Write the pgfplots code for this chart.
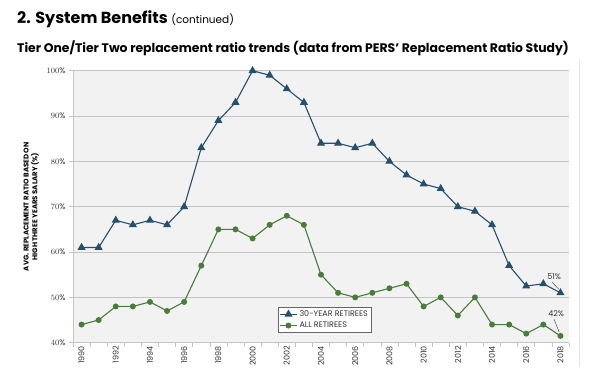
\documentclass[border=0pt]{standalone}
\usepackage{pgfplots}
\pgfplotsset{compat=1.18}
\usepackage{fontspec}
\setmainfont{Poppins}
\definecolor{blueS}{HTML}{24506E}
\definecolor{greenS}{HTML}{4A7C3A}
\definecolor{gridc}{HTML}{C4C4C4}
\definecolor{bgc}{HTML}{F2F2F2}
\definecolor{txt}{HTML}{333333}
\pgfplotstableread{
x y
0 61
1 61
2 67
3 66
4 67
5 66
6 70
7 83
8 89
9 93
10 100
11 99
12 96
13 93
14 84
15 84
16 83
17 84
18 80
19 77
20 75
21 74
22 70
23 69
24 66
25 57
26 52.5
27 53
28 51
}\thirtyyear
\pgfplotstableread{
x y
0 44
1 45
2 48
3 48
4 49
5 47
6 49
7 57
8 65
9 65
10 63
11 66
12 68
13 66
14 55
15 51
16 50
17 51
18 52
19 53
20 48
21 50
22 46
23 50
24 44
25 44
26 42
27 44
28 41.5
}\allret
\begin{document}
\begin{tikzpicture}[x=1pt,y=1pt]
\useasboundingbox (0,0) rectangle (600,384);
\node[anchor=base west, inner sep=0] at (17,360) {\fontsize{16}{18}\selectfont\bfseries 2. System Benefits \fontsize{10.5}{12}\selectfont\mdseries(continued)};
\node[anchor=base west, inner sep=0] at (17,332) {\fontsize{12.4}{14}\selectfont\bfseries Tier One/Tier Two replacement ratio trends (data from PERS’ Replacement Ratio Study)};
\draw[gray!20, line width=0.8pt] (579,17) -- (579,325);
\begin{axis}[
  scale only axis, width=496pt, height=272pt,
  at={(73pt,41.3pt)}, anchor=south west,
  xmin=-0.5, xmax=28.5, ymin=40, ymax=100,
  axis background/.style={fill=bgc},
  axis x line=bottom, axis y line=left,
  axis line style={draw=gridc, line width=0.8pt, -},
  ytick={40,50,...,100},
  yticklabel={\pgfmathprintnumber{\tick}\%},
  ymajorgrids, grid style={draw=gridc, line width=0.7pt},
  tick align=outside,
  major tick length=4pt,
  tick style={draw=gridc, line width=0.6pt},
  xtick={-0.5,0.5,...,28.5},
  xticklabels={},
  extra x ticks={0,2,...,28},
  extra x tick labels={1990,1992,1994,1996,1998,2000,2002,2004,2006,2008,2010,2012,2014,2016,2018},
  extra x tick style={major tick length=0pt, grid=none, tick label style={rotate=90, anchor=east, font=\fontsize{8}{9}\selectfont\color{txt}}},
  yticklabel style={font=\fontsize{8}{9}\selectfont\color{txt}},
  ylabel={AVG. REPLACEMENT RATIO BASED ON\\HIGH THREE YEARS SALARY (\%)},
  ylabel style={font=\fontsize{7}{8.6}\selectfont\bfseries, align=center, yshift=1pt},
  legend style={at={(0.413,0.131)}, anchor=north west, draw=gray!80!black, line width=0.6pt, font=\fontsize{8}{9.5}\selectfont\color{txt}, inner sep=1.2pt, row sep=0pt, fill=white},
  legend cell align=left,
  clip=false,
]
\addplot[blueS, line width=1.1pt, mark=triangle*, mark size=3.6pt, mark options={solid}] table[x=x,y=y] {\thirtyyear};
\addlegendentry{30-YEAR RETIREES}
\addplot[greenS, line width=1.1pt, mark=*, mark size=2.4pt] table[x=x,y=y] {\allret};
\addlegendentry{ALL RETIREES}
\node[font=\fontsize{8}{9}\selectfont, text=txt] at (axis cs:27.63,54.6) {51\%};
\draw[txt, line width=0.4pt] (axis cs:27.5,53.4) -- (axis cs:27.9,51.8);
\node[font=\fontsize{8}{9}\selectfont, text=txt] at (axis cs:27.75,46.4) {42\%};
\draw[txt, line width=0.4pt] (axis cs:27.62,45.2) -- (axis cs:27.92,42.4);
\end{axis}
\end{tikzpicture}
\end{document}
